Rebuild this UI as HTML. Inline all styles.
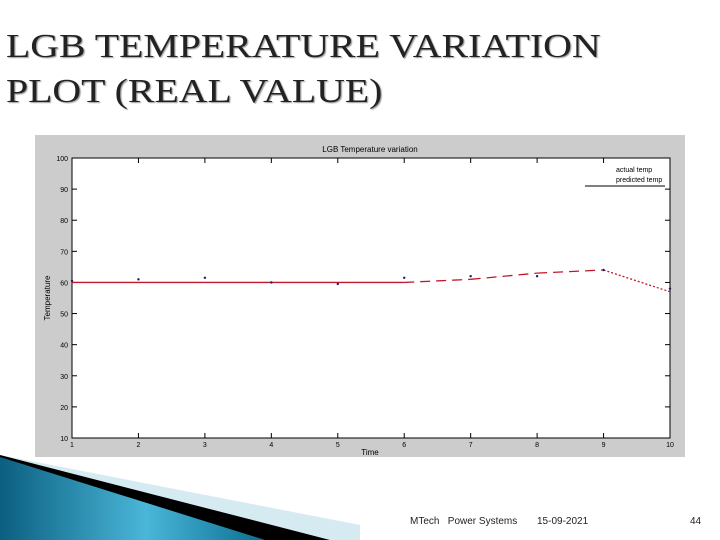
<!DOCTYPE html>
<html><head><meta charset="utf-8"><style>
body{margin:0;width:720px;height:540px;background:#fff;overflow:hidden;position:relative;font-family:"Liberation Sans",sans-serif}
.t{position:absolute;left:6px;top:24px;font-family:"Liberation Serif",serif;font-size:34px;line-height:45px;color:#222;text-shadow:1px 1px 1px #999;white-space:nowrap;transform:scaleX(1.17);transform-origin:0 0}
.f{position:absolute;top:516px;font-size:10px;color:#222}
</style></head><body>
<div class="t">LGB TEMPERATURE VARIATION<br>PLOT (REAL VALUE)</div>
<svg width="720" height="540" style="position:absolute;left:0;top:0">
<defs><linearGradient id="g" x1="0" x2="1"><stop offset="0" stop-color="#0b5f80"/><stop offset="0.55" stop-color="#4ab6d8"/><stop offset="1" stop-color="#0b6f92"/></linearGradient></defs>
<polygon points="0,455 360,525 360,540 0,540" fill="#d6eaf2"/>
<polygon points="0,455 330,540 0,540" fill="#000"/>
<polygon points="0,457 265,540 0,540" fill="url(#g)"/>
<rect x="35" y="135" width="650" height="322" fill="#cccccc"/>
<rect x="72" y="158" width="598" height="280" fill="#fff" stroke="#000"/>
<text x="370" y="152" font-size="8" text-anchor="middle">LGB Temperature variation</text>
<text x="370" y="455" font-size="8" text-anchor="middle">Time</text>
<text x="50" y="298" font-size="8" text-anchor="middle" transform="rotate(-90 50 298)">Temperature</text>
<g id="ax"></g>
<g id="marks"></g>
<line x1="585" y1="186" x2="665" y2="186" stroke="#000"/>
<text x="616" y="172" font-size="7">actual temp</text>
<text x="616" y="182" font-size="7">predicted temp</text>
</svg>
<div class="f" style="left:410px">MTech &nbsp; Power Systems</div>
<div class="f" style="left:537px">15-09-2021</div>
<div class="f" style="left:690px">44</div>
<script>
const times=[1,2,3,4,5,6,7,8,9,10];
const actual=[60.5,61,61.5,60,59.5,61.5,62,62,64,58];
const predicted=[60,60,60,60,60,60,61,63,64,57];
const yTicks=[10,20,30,40,50,60,70,80,90,100];
const X=t=>72+(t-1)/9*598, Y=v=>438-(v-10)/90*280;
const NS="http://www.w3.org/2000/svg";
function mk(p,tag,a){const e=document.createElementNS(NS,tag);for(const k in a)e.setAttribute(k,a[k]);p.appendChild(e);return e;}
const ax=document.getElementById('ax'),mg=document.getElementById('marks');
yTicks.forEach(v=>{const y=Y(v);
 const l=mk(ax,'line',{x1:72,x2:77,y1:y,y2:y,stroke:'#000'});
 
 
 const r=mk(ax,'line',{x1:665,x2:670,y1:y,y2:y,stroke:'#000'});
 
 
 const t=mk(ax,'text',{x:68,y:y+3,'font-size':7,'text-anchor':'end'});t.textContent=v;
 
 });
times.forEach(v=>{const x=X(v);
 const l=mk(ax,'line',{x1:x,x2:x,y1:433,y2:438,stroke:'#000'});
 
 
 const u=mk(ax,'line',{x1:x,x2:x,y1:158,y2:163,stroke:'#000'});
 
 
 const t=mk(ax,'text',{x:x,y:447,'font-size':7,'text-anchor':'middle'});t.textContent=v;
 
 });
for(let i=0;i<times.length-1;i++){
 const dash=i<5?'':(i<8?'10 6':'2 2');
 const s=mk(mg,'line',{x1:X(times[i]),y1:Y(predicted[i]),x2:X(times[i+1]),y2:Y(predicted[i+1]),stroke:'#c0182a','stroke-width':1.3,'stroke-dasharray':dash});
 
 }
times.forEach((t,i)=>{const c=mk(mg,'circle',{cx:X(t),cy:Y(actual[i]),r:1.2,fill:'#1a1a6a'});
 
 });
</script>
</body></html>
